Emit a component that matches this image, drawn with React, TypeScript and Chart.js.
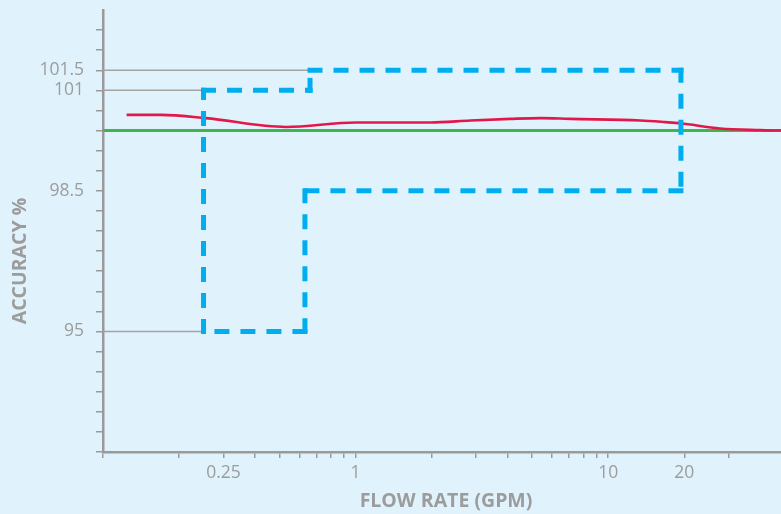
import React, { useEffect, useRef } from "react";
import { Chart, registerables } from "chart.js";

Chart.register(...registerables);

// ---- data ----
const flowRate = [0.124, 0.17, 0.255, 0.53, 1, 1.98, 2.85, 4.1, 5.4, 7.07, 13.4, 16.8, 19.3, 27.7, 39.9, 48.3];
const accuracy = [100.39, 100.39, 100.31, 100.09, 100.2, 100.2, 100.25, 100.29, 100.31, 100.29, 100.25, 100.21, 100.18, 100.05, 100.01, 100.0];

const boxX = [0.25, 0.25, 0.66, 0.66, 19.4, 19.4, 0.63, 0.63, 0.25];
const boxY = [95, 101, 101, 101.5, 101.5, 98.5, 98.5, 95, 95];

const nominalX = [0.1, 48.3];
const nominalY = [100, 100];

const refLineY = [101.5, 101, 95];
const refLineEndX = [0.66, 0.25, 0.25];

const xTickValues = [0.1, 0.2, 0.3, 0.4, 0.5, 0.6, 0.7, 0.8, 0.9, 1, 2, 3, 4, 5, 6, 7, 8, 9, 10, 20, 30];
const xLabelValues = [0.3, 1, 10, 20];
const xLabelTexts = ["0.25", "1", "10", "20"];
const yLabelValues = [95, 98.5, 101, 101.5];

const X_MIN = 0.1;
const X_MAX = 48.3;
const Y_MIN = 92;
const Y_MAX = 103;

const BG = "#e0f2fc";
const AXIS = "#9a9a9a";
const TEXT = "#9c9c9c";
const FONT = "'Open Sans', sans-serif";

export default function App() {
  const ref = useRef<HTMLCanvasElement | null>(null);

  useEffect(() => {
    document.body.style.margin = "0";
    document.body.style.background = BG;
    const canvas = ref.current;
    if (!canvas) return;

    const bgPlugin = {
      id: "bg",
      beforeDraw(chart: any) {
        const { ctx, width, height } = chart;
        ctx.save();
        ctx.fillStyle = BG;
        ctx.fillRect(0, 0, width, height);
        ctx.restore();
      },
    };

    const titlePlugin = {
      id: "titles",
      afterDraw(chart: any) {
        const { ctx } = chart;
        ctx.save();
        ctx.fillStyle = TEXT;
        ctx.font = `bold 19.5px ${FONT}`;
        ctx.textAlign = "center";
        ctx.textBaseline = "middle";
        ctx.fillText("FLOW RATE (GPM)", 446, 501);
        ctx.translate(20, 261);
        ctx.rotate(-Math.PI / 2);
        ctx.fillText("ACCURACY %", 0, 0);
        ctx.restore();
      },
    };

    const refDatasets = refLineY.map((y, i) => ({
      type: "line" as const,
      data: [
        { x: X_MIN, y },
        { x: refLineEndX[i], y },
      ],
      borderColor: "#a3a3a3",
      borderWidth: 1.5,
      pointRadius: 0,
      order: 5,
    }));

    const chart = new Chart(canvas, {
      type: "line",
      data: {
        datasets: [
          ...refDatasets,
          {
            data: nominalX.map((x, i) => ({ x, y: nominalY[i] })),
            borderColor: "#3fb54c",
            borderWidth: 3,
            pointRadius: 0,
            order: 4,
          },
          {
            data: flowRate.map((x, i) => ({ x, y: accuracy[i] })),
            borderColor: "#e3184a",
            borderWidth: 2.6,
            pointRadius: 0,
            cubicInterpolationMode: "monotone",
            order: 3,
          },
          {
            data: boxX.map((x, i) => ({ x, y: boxY[i] })),
            borderColor: "#00aeef",
            borderWidth: 5,
            pointRadius: 0,
            borderDash: [10, 16],
            borderCapStyle: "square",
            segment: {
              borderDashOffset: (c: any) => (c.p0DataIndex % 2 ? 0.001 : 0),
            },
            order: 1,
          },
        ] as any,
      },
      options: {
        animation: false,
        responsive: false,
        maintainAspectRatio: false,
        layout: { padding: { top: 10, left: 0, right: 0, bottom: 0 } },
        plugins: {
          legend: { display: false },
          tooltip: { enabled: false },
        },
        scales: {
          x: {
            type: "logarithmic",
            min: X_MIN,
            max: X_MAX,
            afterBuildTicks(scale: any) {
              scale.ticks = xTickValues.map((v) => ({ value: v }));
            },
            afterFit(scale: any) {
              scale.height = 62;
              scale.paddingLeft = 0;
              scale.paddingRight = 0;
            },
            border: { display: true, color: AXIS, width: 2.5 },
            grid: {
              display: true,
              drawOnChartArea: false,
              drawTicks: true,
              tickLength: 6,
              color: AXIS,
              lineWidth: 1.5,
            },
            ticks: {
              autoSkip: false,
              maxRotation: 0,
              padding: 5,
              color: TEXT,
              font: { family: FONT, size: 17.5 },
              callback(value: any) {
                const i = xLabelValues.indexOf(Number(value));
                return i >= 0 ? xLabelTexts[i] : "";
              },
            },
          },
          y: {
            type: "linear",
            min: Y_MIN,
            max: Y_MAX,
            afterFit(scale: any) {
              scale.width = 103;
              scale.paddingTop = 0;
              scale.paddingBottom = 0;
            },
            border: { display: true, color: AXIS, width: 2.5 },
            grid: {
              display: true,
              drawOnChartArea: false,
              drawTicks: true,
              tickLength: 7,
              lineWidth: 1.5,
              color: (c: any) => (c.tick && c.tick.value === Y_MAX ? "rgba(0,0,0,0)" : AXIS),
            },
            ticks: {
              stepSize: 0.5,
              autoSkip: false,
              padding: 12,
              color: TEXT,
              font: { family: FONT, size: 17.5 },
              callback(value: any) {
                return yLabelValues.includes(Number(value)) ? String(value) : "";
              },
            },
          },
        },
      } as any,
      plugins: [bgPlugin, titlePlugin],
    });

    return () => chart.destroy();
  }, []);

  return (
    <div style={{ width: 781, height: 514, background: BG }}>
      <canvas ref={ref} width={781} height={514} style={{ display: "block", width: 781, height: 514 }} />
    </div>
  );
}
